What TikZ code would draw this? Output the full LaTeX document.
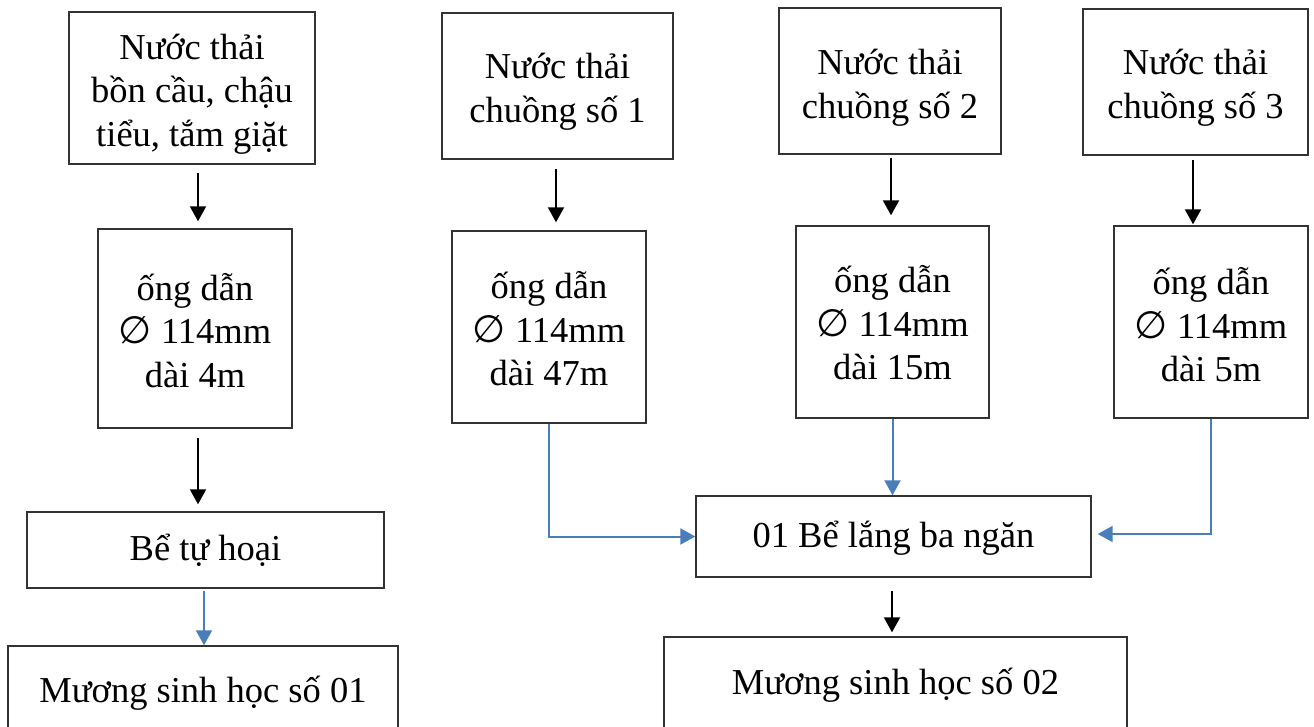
\documentclass[tikz,border=0pt]{standalone}
\usepackage{fontspec}
\setmainfont{Liberation Serif}
\newfontfamily\dejavusym{DejaVu Sans}
\usetikzlibrary{arrows.meta}
\definecolor{lineblue}{HTML}{4A7EBB}
\definecolor{boxline}{HTML}{333333}
\newcommand{\dia}{{\dejavusym\fontsize{38}{40}\selectfont ∅}}
\begin{document}
\begin{tikzpicture}[x=1pt,y=-1pt,
  box/.style={draw=boxline,line width=1.4pt,inner sep=0pt},
  txt/.style={inner sep=0pt,align=center,font=\fontsize{36.5}{43.5}\selectfont},
  barr/.style={draw=black,line width=2pt,-{Triangle[length=15pt,width=16pt]}},
  blarr/.style={draw=lineblue,line width=2pt,-{Triangle[length=15pt,width=16pt]}}]
\useasboundingbox (0,0) rectangle (1314,727);
\clip (0,0) rectangle (1314,727);
% top row
\node[box,minimum width=246pt,minimum height=152pt] (b1) at (192,88) {};
\node[txt] (b1t) at ([yshift=-6pt]b1.center) {Nước thải\\bồn cầu, chậu\\tiểu, tắm giặt};
\node[box,minimum width=231pt,minimum height=146pt] (b2) at (557.5,86) {};
\node[txt] (b2t) at ([yshift=-6pt]b2.center) {Nước thải\\chuồng số 1};
\node[box,minimum width=222pt,minimum height=146pt] (b3) at (890,81) {};
\node[txt] (b3t) at ([yshift=-7pt]b3.center) {Nước thải\\chuồng số 2};
\node[box,minimum width=225pt,minimum height=146pt] (b4) at (1195.5,82) {};
\node[txt] (b4t) at ([yshift=-6pt]b4.center) {Nước thải\\chuồng số 3};
% pipes
\node[box,minimum width=194pt,minimum height=199pt] (p1) at (195,328.5) {};
\node[txt] (p1t) at ([yshift=-2pt]p1.center) {ống dẫn\\\dia\ 114mm\\dài 4m};
\node[box,minimum width=194pt,minimum height=192pt] (p2) at (549,327) {};
\node[txt] (p2t) at ([yshift=-2pt]p2.center) {ống dẫn\\\dia\ 114mm\\dài 47m};
\node[box,minimum width=193pt,minimum height=192pt] (p3) at (892.5,322) {};
\node[txt] (p3t) at ([yshift=-1pt]p3.center) {ống dẫn\\\dia\ 114mm\\dài 15m};
\node[box,minimum width=194pt,minimum height=192pt] (p4) at (1211,322) {};
\node[txt] (p4t) at ([yshift=-3pt]p4.center) {ống dẫn\\\dia\ 114mm\\dài 5m};
% tanks
\node[box,minimum width=357pt,minimum height=76pt] (t1) at (205.5,550) {};
\node[txt] (t1t) at (t1.center) {Bể tự hoại};
\node[box,minimum width=395pt,minimum height=81pt] (t2) at (893.5,536.5) {};
\node[txt] (t2t) at ([yshift=-2pt]t2.center) {01 Bể lắng ba ngăn};
% ditches
\node[box,minimum width=390pt,minimum height=94pt] (m1) at (203,693) {};
\node[txt] (m1t) at (m1.center) {Mương sinh học số 01};
\node[box,minimum width=463pt,minimum height=94pt] (m2) at (895.5,684) {};
\node[txt] (m2t) at ([yshift=-1pt]m2.center) {Mương sinh học số 02};
% arrows
\draw[barr,shorten <=8pt,shorten >=7pt] ([xshift=6pt]b1.south) -- ([xshift=6pt]b1.south |- p1.north);
\draw[barr,shorten <=9pt,shorten >=7pt] ([xshift=3pt]p1.south) -- ([xshift=3pt]p1.south |- t1.north);
\draw[blarr,shorten <=2pt] ([xshift=-1.5pt]t1.south) -- ([xshift=-1.5pt]t1.south |- m1.north);
\draw[barr,shorten <=9pt,shorten >=8pt] ([xshift=-1.5pt]b2.south) -- ([xshift=-1.5pt]b2.south |- p2.north);
\draw[barr,shorten <=3pt,shorten >=10pt] ([xshift=1pt]b3.south) -- ([xshift=1pt]b3.south |- p3.north);
\draw[barr,shorten <=4pt,shorten >=1pt] ([xshift=-2.5pt]b4.south) -- ([xshift=-2.5pt]b4.south |- p4.north);
\draw[blarr] (p2.south) |- (t2.west);
\draw[blarr] (p3.south) -- (p3.south |- t2.north);
\draw[blarr,shorten >=6pt] (p4.south) |- ([yshift=2.5pt]t2.east);
\draw[barr,shorten <=13pt,shorten >=4pt] ([xshift=-1.5pt]t2.south) -- ([xshift=-1.5pt]t2.south |- m2.north);
\end{tikzpicture}
\end{document}
